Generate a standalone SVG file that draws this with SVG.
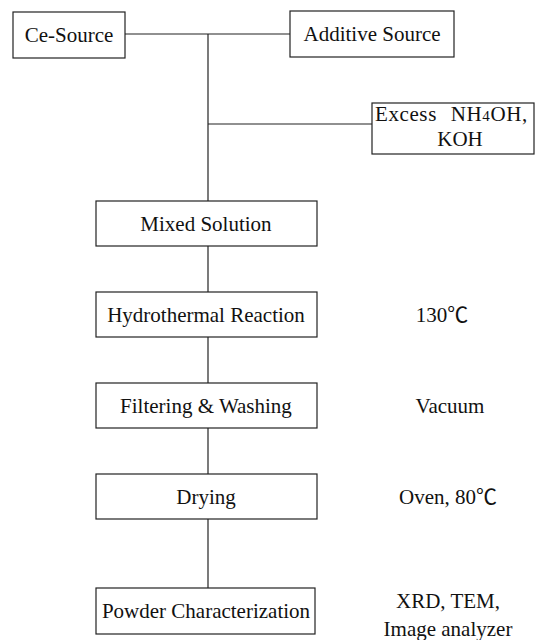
<svg xmlns="http://www.w3.org/2000/svg" width="538" height="640" viewBox="0 0 538 640">
<style>
.box{fill:#fff;stroke:#222;stroke-width:1.2}
.ln{stroke:#222;stroke-width:1.2;fill:none}
text{font-family:"Liberation Serif","Noto Sans CJK KR",serif;font-size:21px;fill:#111}
.c{text-anchor:middle}
</style>
<rect width="538" height="640" fill="#fff"/>
<g id="connectors">
<line class="ln" x1="125" y1="34" x2="290" y2="34"/>
<line class="ln" x1="208" y1="34" x2="208" y2="201"/>
<line class="ln" x1="208" y1="124" x2="372" y2="124"/>
<line class="ln" x1="208" y1="246" x2="208" y2="292"/>
<line class="ln" x1="208" y1="337" x2="208" y2="383"/>
<line class="ln" x1="208" y1="428" x2="208" y2="474"/>
<line class="ln" x1="208" y1="519" x2="208" y2="588"/>
</g>
<g id="ce-source"><rect class="box" x="13" y="12" width="112" height="46"/><text x="69" y="42" class="c">Ce-Source</text></g>
<g id="additive-source"><rect class="box" x="290" y="11" width="164" height="46"/><text x="372" y="41" class="c">Additive Source</text></g>
<g id="excess"><rect class="box" x="372" y="103" width="162" height="51"/><text x="375" y="121" word-spacing="8" letter-spacing="0.6">Excess NH<tspan font-size="15">4</tspan>OH,</text><text x="460" y="146" class="c">KOH</text></g>
<g id="mixed-solution"><rect class="box" x="96" y="201" width="221" height="45"/><text x="206" y="231" class="c">Mixed Solution</text></g>
<g id="hydrothermal"><rect class="box" x="96" y="292" width="221" height="45"/><text x="206" y="322" class="c">Hydrothermal Reaction</text></g>
<g id="hydrothermal-cond"><text x="442" y="322" class="c">130℃</text></g>
<g id="filtering"><rect class="box" x="96" y="383" width="221" height="45"/><text x="206" y="413" class="c">Filtering &amp; Washing</text></g>
<g id="filtering-cond"><text x="450" y="413" class="c">Vacuum</text></g>
<g id="drying"><rect class="box" x="96" y="474" width="221" height="45"/><text x="206" y="504" class="c">Drying</text></g>
<g id="drying-cond"><text x="448" y="504" class="c">Oven, 80℃</text></g>
<g id="powder"><rect class="box" x="96" y="588" width="219" height="46"/><text x="206" y="618" class="c">Powder Characterization</text></g>
<g id="powder-cond"><text x="448" y="608" class="c">XRD, TEM,</text><text x="448" y="636" class="c">Image analyzer</text></g>
</svg>
